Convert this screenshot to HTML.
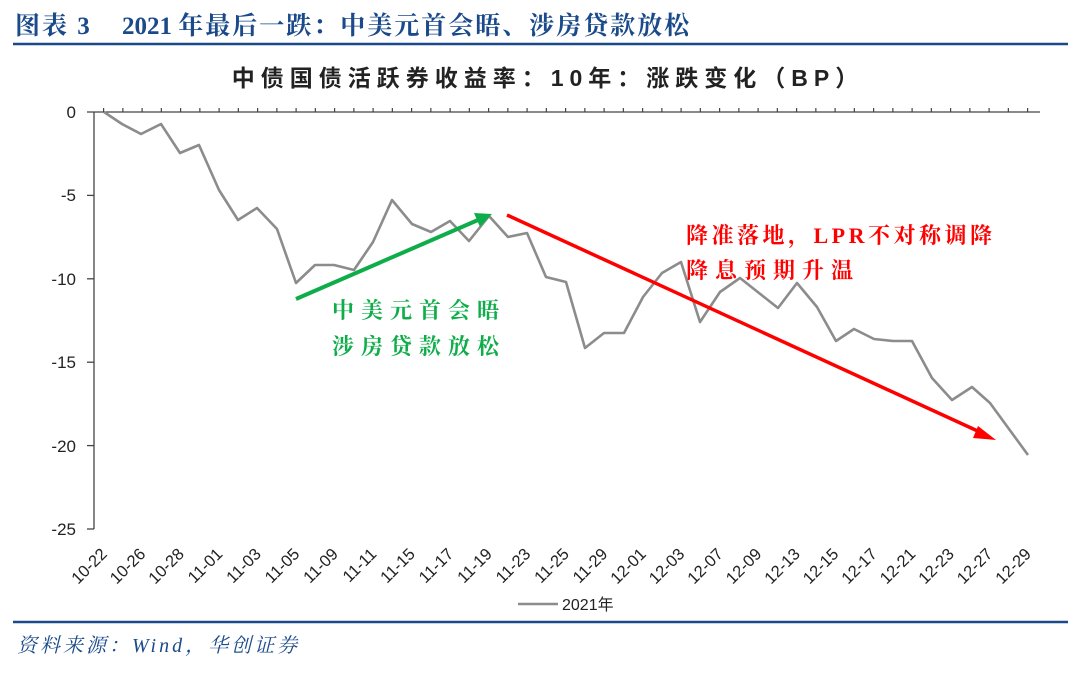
<!DOCTYPE html>
<html><head><meta charset="utf-8"><style>
body{margin:0;background:#fff;width:1080px;height:670px;overflow:hidden}
</style></head><body>
<svg width="1080" height="670" xmlns="http://www.w3.org/2000/svg">
<g font-family="'Liberation Serif','Noto Serif CJK SC',serif" font-weight="bold" font-size="25" fill="#1a4a8a">
<text x="15" y="34" letter-spacing="2">图表 3</text>
<text x="122" y="34" letter-spacing="2"><tspan letter-spacing="0">2021 </tspan>年最后一跌：中美元首会晤、涉房贷款放松</text>
</g>
<line x1="13" y1="44" x2="1068" y2="44" stroke="#1a4a8a" stroke-width="2.5"/>
<text x="548" y="86" text-anchor="middle" font-family="'Liberation Sans','Noto Sans CJK SC',sans-serif" font-weight="bold" font-size="23" letter-spacing="6" fill="#222">中债国债活跃券收益率：10年：涨跌变化（BP）</text>
<g font-family="'Liberation Sans',sans-serif" font-size="17" fill="#222" text-anchor="end">
<text x="76" y="118">0</text><text x="76" y="201">-5</text><text x="76" y="285">-10</text><text x="76" y="368">-15</text><text x="76" y="452">-20</text><text x="76" y="535">-25</text>
</g>
<g stroke="#444" stroke-width="1.3">
<line x1="94" y1="112" x2="94" y2="529"/>
<line x1="87" y1="112" x2="1040" y2="112"/>
<line x1="87" y1="195.4" x2="94" y2="195.4"/><line x1="87" y1="278.8" x2="94" y2="278.8"/><line x1="87" y1="362.2" x2="94" y2="362.2"/><line x1="87" y1="445.6" x2="94" y2="445.6"/><line x1="87" y1="529" x2="94" y2="529"/>
</g>
<g stroke="#444" stroke-width="1.2" id="ticks"></g>
<polyline fill="none" stroke="#8c8c8c" stroke-width="2.6" stroke-linejoin="round" points="104,112 122,124 141,134 161,124 180,153 199,145 219,190 238,220 257,208 277,229 296,283 315,265 334,265 354,270 373,242 392,200 412,224 431,232 450,221 469,241 489,216 508,237 527,233 546,277 566,282 585,348 604,333 624,333 643,297 662,273 681,262 700,322 720,292 740,278 759,293 778,308 797,283 817,307 836,341 854,329 874,339 893,341 912,341 932,378 952,400 972,387 990,403 1009,429 1028,455"/>
<line x1="296" y1="299" x2="478" y2="220" stroke="#0fad4a" stroke-width="4"/>
<polygon points="492,214 474,213 480,227" fill="#0fad4a"/>
<line x1="507" y1="215" x2="982" y2="433" stroke="#ff0000" stroke-width="3.5"/>
<polygon points="996,440 978,426 973,438" fill="#ff0000"/>
<g font-family="'Liberation Serif','Noto Serif CJK SC',serif" font-weight="bold" font-size="22">
<text x="332" y="318" fill="#0fad4a" letter-spacing="7">中美元首会晤</text>
<text x="332" y="354" fill="#0fad4a" letter-spacing="7">涉房贷款放松</text>
<text x="686" y="243" fill="#ff0000" letter-spacing="3.5">降准落地，LPR不对称调降</text>
<text x="686" y="278" fill="#ff0000" letter-spacing="7">降息预期升温</text>
</g>
<g font-family="'Liberation Sans',sans-serif" font-size="16.5" fill="#222" text-anchor="end">
<text transform="translate(108,555) rotate(-45)">10-22</text>
<text transform="translate(146.5,555) rotate(-45)">10-26</text>
<text transform="translate(185,555) rotate(-45)">10-28</text>
<text transform="translate(223.5,555) rotate(-45)">11-01</text>
<text transform="translate(262,555) rotate(-45)">11-03</text>
<text transform="translate(300.5,555) rotate(-45)">11-05</text>
<text transform="translate(339,555) rotate(-45)">11-09</text>
<text transform="translate(377.5,555) rotate(-45)">11-11</text>
<text transform="translate(416,555) rotate(-45)">11-15</text>
<text transform="translate(454.5,555) rotate(-45)">11-17</text>
<text transform="translate(493,555) rotate(-45)">11-19</text>
<text transform="translate(531.5,555) rotate(-45)">11-23</text>
<text transform="translate(570,555) rotate(-45)">11-25</text>
<text transform="translate(608.5,555) rotate(-45)">11-29</text>
<text transform="translate(647,555) rotate(-45)">12-01</text>
<text transform="translate(685.5,555) rotate(-45)">12-03</text>
<text transform="translate(724,555) rotate(-45)">12-07</text>
<text transform="translate(762.5,555) rotate(-45)">12-09</text>
<text transform="translate(801,555) rotate(-45)">12-13</text>
<text transform="translate(839.5,555) rotate(-45)">12-15</text>
<text transform="translate(878,555) rotate(-45)">12-17</text>
<text transform="translate(916.5,555) rotate(-45)">12-21</text>
<text transform="translate(955,555) rotate(-45)">12-23</text>
<text transform="translate(993.5,555) rotate(-45)">12-27</text>
<text transform="translate(1032,555) rotate(-45)">12-29</text>
</g>
<line x1="518" y1="604" x2="558" y2="604" stroke="#8c8c8c" stroke-width="2.6"/>
<text x="562" y="610" font-family="'Liberation Sans','Noto Sans CJK SC',sans-serif" font-size="16" fill="#222">2021年</text>
<line x1="13" y1="622" x2="1068" y2="622" stroke="#1a4a8a" stroke-width="2.5"/>
<text x="17" y="652" font-family="'Liberation Serif','Noto Serif CJK SC',serif" font-style="italic" font-size="20" letter-spacing="3" fill="#1a4a8a">资料来源：Wind，华创证券</text>
</svg>
<script>
var g=document.getElementById('ticks');var s='';
for(var i=0;i<50;i++){var x=94+i*19.25+9.6;if(x>1040)break;s+='<line x1="'+x+'" y1="108" x2="'+x+'" y2="112"/>';}
g.innerHTML=s;
</script>
</body></html>
